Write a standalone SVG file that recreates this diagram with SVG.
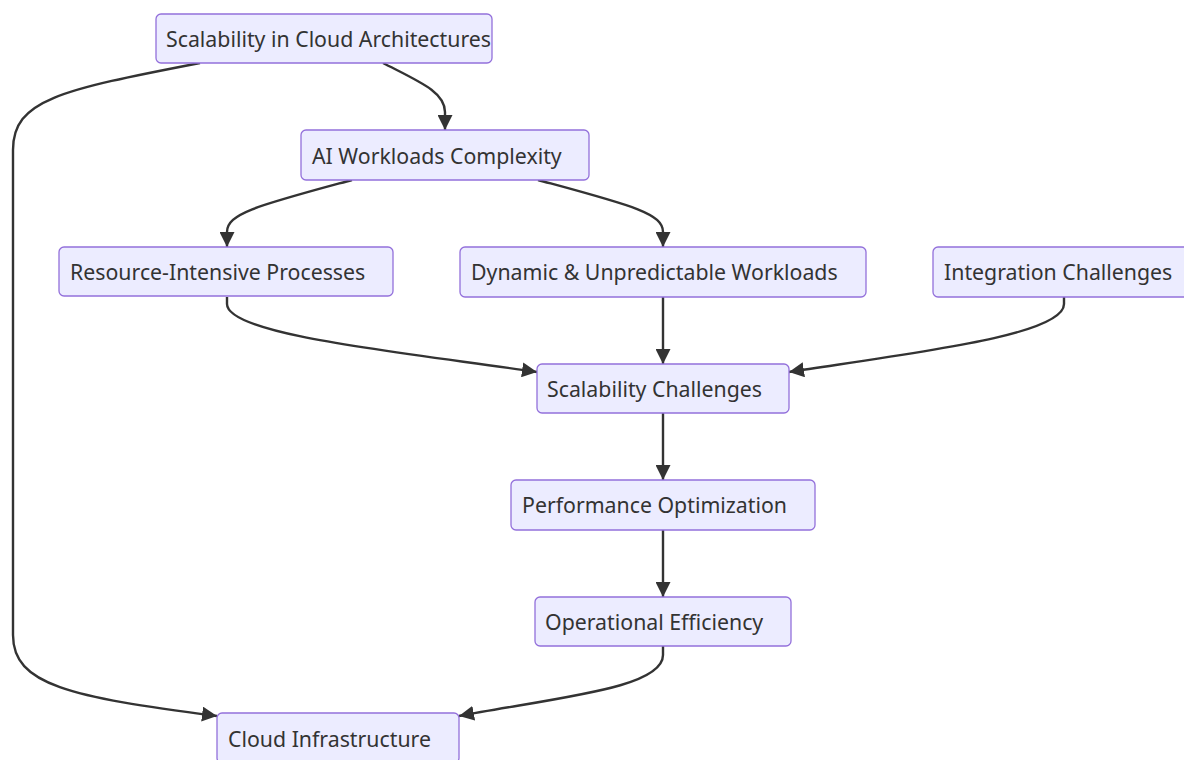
<svg xmlns="http://www.w3.org/2000/svg" width="1184" height="760" viewBox="0 0 1184 760">
<style>
.node rect{fill:#ECECFF;stroke:#9370DB;stroke-width:1.3}
.node text{font-family:"Noto Sans","Open Sans",sans-serif;font-size:21.3px;fill:#333}
.edge{fill:none;stroke:#333;stroke-width:2.4}
</style>
<defs>
<marker id="arr" viewBox="0 0 10 10" refX="10" refY="5" markerUnits="userSpaceOnUse" markerWidth="15" markerHeight="15" orient="auto">
<path d="M0,0 L10,5 L0,10 z" fill="#333"/>
</marker>
</defs>
<rect width="1184" height="760" fill="#fff"/>
<g id="edges">
<path class="edge" marker-end="url(#arr)" d="M383,63 C420,82 445,92 445,112 L445,130"/>
<path class="edge" marker-end="url(#arr)" d="M200,63 C60,90 13,100 13,150 L13,635 C13,685 70,697 217,716"/>
<path class="edge" marker-end="url(#arr)" d="M352,180 C260,205 227,213 227,232 L227,247"/>
<path class="edge" marker-end="url(#arr)" d="M538,180 C630,205 663,213 663,232 L663,247"/>
<path class="edge" marker-end="url(#arr)" d="M227,297 L227,304 C227,335 400,352 537,372"/>
<path class="edge" marker-end="url(#arr)" d="M663,297 L663,364"/>
<path class="edge" marker-end="url(#arr)" d="M1064,297 L1064,304 C1064,335 920,352 789,372"/>
<path class="edge" marker-end="url(#arr)" d="M663,413 L663,480"/>
<path class="edge" marker-end="url(#arr)" d="M663,530 L663,597"/>
<path class="edge" marker-end="url(#arr)" d="M663,646 L663,655 C663,688 560,697 459,716"/>
</g>
<g id="n1" class="node"><rect x="156" y="14" width="336" height="49" rx="5"/><text x="166" y="47">Scalability in Cloud Architectures</text></g>
<g id="n2" class="node"><rect x="301" y="130" width="288" height="50" rx="5"/><text x="312" y="163.5">AI Workloads Complexity</text></g>
<g id="n3" class="node"><rect x="59" y="247" width="334" height="49" rx="5"/><text x="70" y="280">Resource-Intensive Processes</text></g>
<g id="n4" class="node"><rect x="460" y="247" width="406" height="50" rx="5"/><text x="471" y="280">Dynamic &amp; Unpredictable Workloads</text></g>
<g id="n5" class="node"><rect x="933" y="247" width="262" height="50" rx="5"/><text x="944" y="280">Integration Challenges</text></g>
<g id="n6" class="node"><rect x="537" y="364" width="252" height="49" rx="5"/><text x="547" y="397">Scalability Challenges</text></g>
<g id="n7" class="node"><rect x="511" y="480" width="304" height="50" rx="5"/><text x="522" y="513">Performance Optimization</text></g>
<g id="n8" class="node"><rect x="535" y="597" width="256" height="49" rx="5"/><text x="545" y="630">Operational Efficiency</text></g>
<g id="n9" class="node"><rect x="217" y="713" width="242" height="50" rx="5"/><text x="228" y="747">Cloud Infrastructure</text></g>
</svg>
